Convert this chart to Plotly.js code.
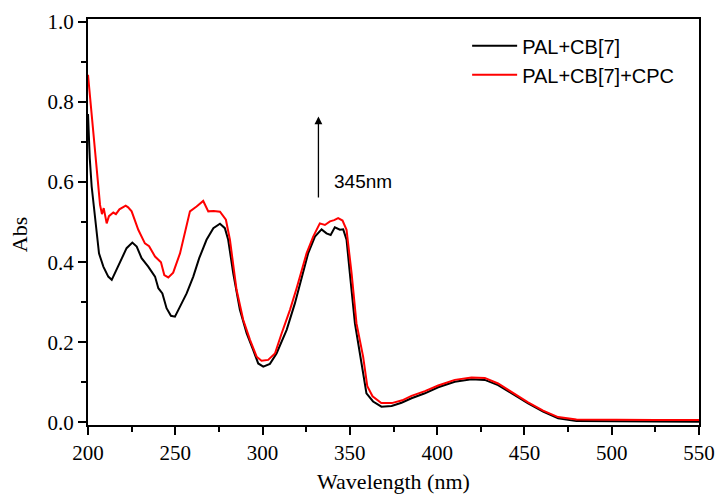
<!DOCTYPE html>
<html>
<head>
<meta charset="utf-8">
<script src="https://cdn.plot.ly/plotly-3.0.1.min.js"></script>
<style>html,body{margin:0;padding:0;background:#fff;}#chart{width:718px;height:494px;}</style>
</head>
<body>
<div id="chart"></div>
<script>
// Wavelength (nm) and absorbance
const blackName = "PAL+CB[7]";
const blackX = [200, 201, 202.1, 204, 206.3, 208.8, 211.6, 213.6, 216.4, 219.3, 222.1, 225.4, 227.9, 230.7, 234.5, 238.4, 240.3, 242.6, 245, 247.5, 249.8, 252.7, 256.5, 260.3, 263.7, 267.9, 271.8, 275.6, 278.4, 280.3, 283.2, 287, 290.9, 294.6, 297.5, 300.4, 304.2, 308, 313.8, 318.5, 323.3, 326.1, 330, 333.8, 336.6, 339, 341.4, 344.3, 346.2, 348.1, 350, 352.9, 356.7, 359.5, 363.3, 368.1, 373.9, 379.6, 385.3, 393, 400.6, 410.1, 419.7, 427.3, 434.9, 442.6, 452.1, 460.7, 469.3, 479.8, 500, 525, 550];
const blackY = [0.77, 0.66, 0.589, 0.506, 0.422, 0.389, 0.364, 0.356, 0.381, 0.406, 0.435, 0.449, 0.439, 0.41, 0.389, 0.364, 0.335, 0.322, 0.285, 0.266, 0.264, 0.289, 0.322, 0.364, 0.41, 0.456, 0.485, 0.496, 0.485, 0.456, 0.372, 0.281, 0.222, 0.181, 0.147, 0.139, 0.146, 0.172, 0.231, 0.297, 0.372, 0.422, 0.464, 0.482, 0.472, 0.468, 0.487, 0.481, 0.482, 0.456, 0.372, 0.247, 0.147, 0.0725, 0.052, 0.039, 0.041, 0.049, 0.06, 0.0725, 0.0875, 0.1015, 0.1075, 0.106, 0.093, 0.0725, 0.0475, 0.0265, 0.01, 0.003, 0.002, 0.002, 0.0015];

const redName = "PAL+CB[7]+CPC";
const redX = [200, 202.1, 205, 206.9, 208, 209, 210.7, 212, 214.5, 216, 218, 221.6, 223, 225, 228.8, 232.6, 235, 238.4, 241.8, 243.7, 246, 248.8, 252.7, 255.5, 258.4, 262.2, 266, 268.9, 272, 275.6, 279, 281.3, 285.1, 288.9, 292.8, 296.6, 299.4, 303.2, 307.1, 310.9, 315.7, 319.5, 322.4, 325.2, 329, 332.8, 335.7, 338.6, 341, 343.3, 345.8, 348.1, 351, 353.8, 357.6, 360, 363, 368, 374, 380, 385.3, 393, 400.6, 410.1, 419.7, 427.3, 434.9, 442.6, 452.1, 460.7, 469.3, 479.8, 500, 525, 550];
const redY = [0.868, 0.764, 0.631, 0.543, 0.52, 0.535, 0.497, 0.515, 0.524, 0.52, 0.532, 0.541, 0.537, 0.527, 0.481, 0.447, 0.44, 0.414, 0.40, 0.368, 0.362, 0.374, 0.422, 0.472, 0.527, 0.539, 0.553, 0.527, 0.528, 0.526, 0.506, 0.456, 0.331, 0.256, 0.206, 0.164, 0.154, 0.156, 0.172, 0.222, 0.281, 0.335, 0.377, 0.422, 0.464, 0.497, 0.493, 0.502, 0.505, 0.51, 0.504, 0.481, 0.372, 0.247, 0.164, 0.09, 0.065, 0.048, 0.048, 0.055, 0.066, 0.078, 0.092, 0.106, 0.112, 0.111, 0.097, 0.076, 0.05, 0.029, 0.013, 0.007, 0.006, 0.006, 0.006];

const xTitle = "Wavelength (nm)";
const yTitle = "Abs";
const arrowLabel = "345nm";
const arrowX = 332;
const arrowFrom = 0.558;
const arrowTo = 0.764;

const serif = "Liberation Serif, Times New Roman, serif";
const sans = "Liberation Sans, Arial, sans-serif";

const traces = [
  {x: blackX, y: blackY, name: blackName, type: "scatter", mode: "lines", line: {color: "#000000", width: 2}},
  {x: redX, y: redY, name: redName, type: "scatter", mode: "lines", line: {color: "#ff0000", width: 2}}
];

const layout = {
  width: 718, height: 494,
  margin: {l: 88, r: 19, t: 19, b: 69},
  paper_bgcolor: "#ffffff", plot_bgcolor: "#ffffff",
  showlegend: true,
  legend: {x: 0.6205, y: 0.982, xanchor: "left", yanchor: "top", font: {family: sans, size: 20, color: "#000"}, bgcolor: "rgba(0,0,0,0)", tracegroupgap: 0, itemwidth: 45},
  xaxis: {
    range: [200, 550], dtick: 50, tick0: 200, ticks: "outside", ticklen: 8, tickwidth: 2, tickcolor: "#000",
    showline: true, linecolor: "#000", linewidth: 2, mirror: true, showgrid: false, zeroline: false,
    tickfont: {family: serif, size: 21, color: "#000"},
    minor: {dtick: 25, ticks: "outside", ticklen: 5, tickwidth: 2, tickcolor: "#000", showgrid: false},
    title: {text: xTitle, font: {family: serif, size: 22, color: "#000"}, standoff: 24}
  },
  yaxis: {
    range: [-0.0067, 1.0075], dtick: 0.2, tick0: 0, tickformat: ".1f", ticks: "outside", ticklen: 8, tickwidth: 2, tickcolor: "#000",
    showline: true, linecolor: "#000", linewidth: 2, mirror: true, showgrid: false, zeroline: false,
    tickfont: {family: serif, size: 21, color: "#000"},
    minor: {dtick: 0.1, ticks: "outside", ticklen: 5, tickwidth: 2, tickcolor: "#000", showgrid: false}
  },
  annotations: [
    {x: arrowX, y: arrowTo, ax: arrowX, ay: arrowFrom, xref: "x", yref: "y", axref: "x", ayref: "y",
     showarrow: true, arrowhead: 2, arrowsize: 1.2, arrowwidth: 1.3, arrowcolor: "#000", text: ""},
    {x: 339.5, y: 0.601, xref: "x", yref: "y", xanchor: "left", yanchor: "middle", showarrow: false,
     text: arrowLabel, font: {family: sans, size: 19, color: "#000"}},
    {x: -0.111, y: 0.468, xref: "paper", yref: "paper", xanchor: "center", yanchor: "middle", showarrow: false,
     textangle: -90, text: yTitle, font: {family: serif, size: 22, color: "#000"}}
  ]
};

Plotly.newPlot("chart", traces, layout, {displayModeBar: false, staticPlot: true});
</script>
</body>
</html>
